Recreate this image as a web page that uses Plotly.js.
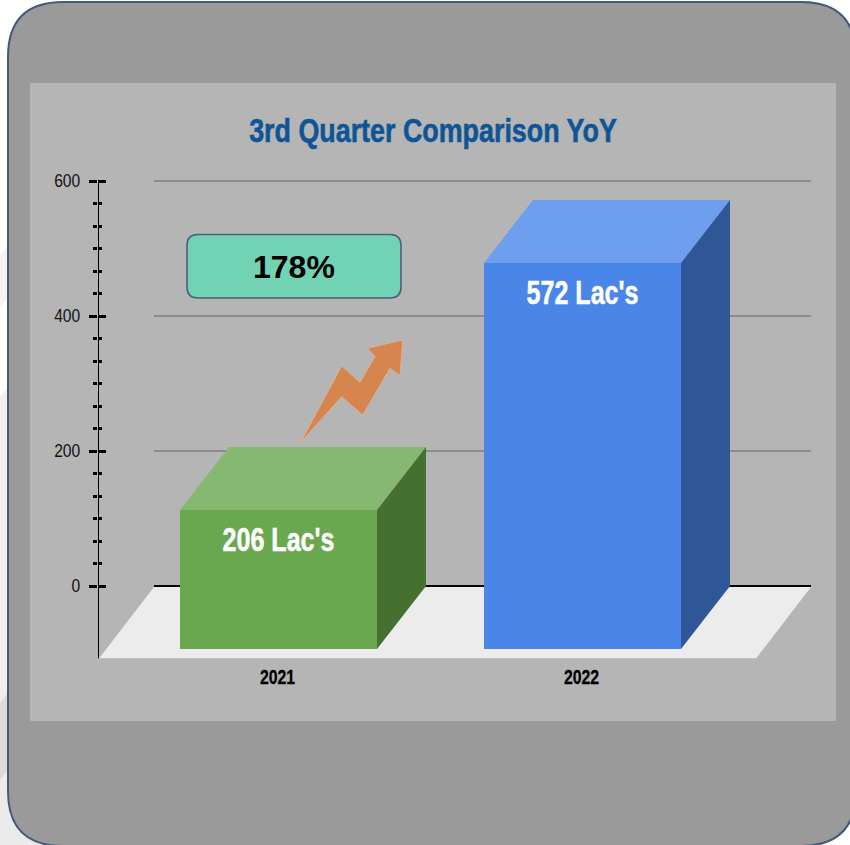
<!DOCTYPE html>
<html><head><meta charset="utf-8">
<script src="https://cdn.plot.ly/plotly-3.0.1.min.js"></script>
<style>html,body{margin:0;padding:0;background:#fff}#chart{width:850px;height:845px}</style>
</head><body><div id="chart"></div>
<script>
const categories = ['2021', '2022'];
const values = [206, 572];
const categoryPos = [0, 1];
const majorTicks = [0, 200, 400, 600];
const growthLabel = '178%';
const titleText = '3rd Quarter Comparison YoY';

const W = 850, H = 845;
const SANS = '"Liberation Sans",Arial,sans-serif';
const PX_PER_CAT = 304, X0_PX = 278.5;
const PY_PER_UNIT = 405 / 600, Y0_PX = 586;
const xVal = p => (p - X0_PX) / PX_PER_CAT;
const yVal = p => (Y0_PX - p) / PY_PER_UNIT;
const fx = p => p / W, fy = p => 1 - p / H;

const depthX = 49 / PX_PER_CAT, depthY = 63 / PY_PER_UNIT, barW = 197 / PX_PER_CAT;
const minorTicks = [];
for (let v = 0; v < 600; v += 200) for (let k = 1; k < 6; k++) minorTicks.push(v + k * 200 / 6);

const colors = [
  {front: '#69a84f', top: '#87b872', side: '#457030'},
  {front: '#4a86e8', top: '#6e9eee', side: '#2f5797'}
];

const traces = [];
categoryPos.forEach((c, i) => {
  const v = values[i], l = c - barW / 2, r = c + barW / 2;
  traces.push({type: 'scatter', mode: 'lines', fill: 'toself', fillcolor: colors[i].top, line: {width: 0}, hoverinfo: 'skip',
    x: [l, r, r + depthX, l + depthX, l], y: [v - depthY, v - depthY, v, v, v - depthY]});
  traces.push({type: 'scatter', mode: 'lines', fill: 'toself', fillcolor: colors[i].side, line: {width: 0}, hoverinfo: 'skip',
    x: [r, r + depthX, r + depthX, r, r], y: [-depthY, 0, v, v - depthY, -depthY]});
});
traces.unshift({type: 'bar', x: categoryPos, y: values, base: values.map(() => -depthY), width: barW,
  marker: {color: colors.map(c => c.front), line: {width: 0}}, hoverinfo: 'y'});
traces.push({type: 'scatter', mode: 'text', x: categoryPos, y: values.map(v => v - depthY - 32.5 / PY_PER_UNIT),
  text: values.map(v => v + " Lac's"), textposition: 'middle center', hoverinfo: 'skip',
  textfont: {family: SANS, size: 33, color: '#ffffff', weight: 700}});
traces.push({type: 'scatter', mode: 'none', x: categoryPos, y: values, yaxis: 'y2', hoverinfo: 'skip'});

const pathOf = pts => 'M' + pts.map(p => fx(p[0]) + ',' + fy(p[1])).join(' L') + ' Z';
const roundRect = (L, T, R, B, r) => `M${fx(L + r)},${fy(T)} L${fx(R - r)},${fy(T)} Q${fx(R)},${fy(T)} ${fx(R)},${fy(T + r)} L${fx(R)},${fy(B - r)} Q${fx(R)},${fy(B)} ${fx(R - r)},${fy(B)} L${fx(L + r)},${fy(B)} Q${fx(L)},${fy(B)} ${fx(L)},${fy(B - r)} L${fx(L)},${fy(T + r)} Q${fx(L)},${fy(T)} ${fx(L + r)},${fy(T)} Z`;
const paperPath = (path, fill, line, layer) => ({type: 'path', xref: 'paper', yref: 'paper', layer: layer || 'below', path, fillcolor: fill, line: line || {width: 0}});

const shapes = [
  paperPath(pathOf([[0, 255], [10, 243], [10, 295], [0, 307]]), '#f3f3f3'),
  paperPath(pathOf([[0, 397], [10, 385], [10, 845], [0, 845]]), '#efefef'),
  paperPath(pathOf([[0, 703], [10, 690], [10, 768], [0, 780]]), '#dcdcdc'),
  paperPath(pathOf([[0, 780], [70, 780], [70, 845], [0, 845]]), '#ebebeb'),
  paperPath(roundRect(8, 2, 856, 846, 55), '#9a9a9a', {color: '#45597a', width: 2}),
  {type: 'rect', xref: 'paper', yref: 'paper', layer: 'below', x0: fx(30), x1: fx(836), y0: fy(721), y1: fy(83), fillcolor: '#b5b5b5', line: {width: 0}},
  {type: 'path', xref: 'x', yref: 'y', layer: 'below',
    path: `M${xVal(99)},${yVal(658.5)} L${xVal(154)},${yVal(587)} L${xVal(811)},${yVal(587)} L${xVal(756)},${yVal(658.5)} Z`, fillcolor: '#ececec', line: {width: 0}}
];
majorTicks.forEach(t => shapes.push({type: 'line', xref: 'x', yref: 'y', layer: 'below',
  x0: xVal(154), x1: xVal(811), y0: t, y1: t, line: {color: t === 0 ? '#000000' : '#7f7f7f', width: t === 0 ? 2 : 1.5}}));
// axis line stops at the top tick, while the axis itself runs a little higher so that tick is kept
shapes.push({type: 'line', xref: 'x', yref: 'y', layer: 'above', x0: xVal(98), x1: xVal(98), y0: yVal(658.5), y1: 600, line: {color: '#000', width: 2}});
shapes.push(paperPath(roundRect(187, 234.5, 401, 298, 11), '#72d3b4', {color: '#4a5f80', width: 1.6}, 'above'));
shapes.push(paperPath(pathOf([[300.5, 442.5], [341.7, 396.7], [362.7, 415], [390, 368.3], [400, 375.7], [402.7, 340], [367.7, 348.3], [375, 356.7], [360, 382.3], [341.7, 366]]),
  '#d6854f', {color: '#e3b898', width: 0.7}, 'above'));

const yTopPx = 176;
const yRange = [yVal(658.5), yVal(yTopPx)];
const layout = {
  width: W, height: H, margin: {l: 0, r: 0, t: 0, b: 0},
  paper_bgcolor: '#ffffff', plot_bgcolor: 'rgba(0,0,0,0)', showlegend: false, bargap: 0,
  title: {text: titleText, x: fx(433), xanchor: 'center', y: fy(130), yanchor: 'middle', font: {family: SANS, size: 34, color: '#0f5596', weight: 700}},
  xaxis: {domain: [fx(98), fx(811)], range: [xVal(98), xVal(811)], showgrid: false, zeroline: false, showline: false,
    tickmode: 'array', tickvals: categoryPos, ticktext: categories, ticks: '', ticklabelstandoff: 4, tickfont: {family: SANS, size: 20, color: '#000', weight: 700}},
  yaxis: {domain: [fy(658.5), fy(yTopPx)], range: yRange, showgrid: false, zeroline: false, showline: false,
    tickmode: 'array', tickvals: majorTicks, ticks: 'outside', ticklen: 8, tickwidth: 3, tickcolor: '#000', ticklabelstandoff: 5,
    tickfont: {family: SANS, size: 19, color: '#111'},
    minor: {tickmode: 'array', tickvals: minorTicks, ticks: 'outside', ticklen: 4, tickwidth: 3, tickcolor: '#000', showgrid: false}},
  yaxis2: {overlaying: 'y', side: 'left', anchor: 'x', range: yRange, showgrid: false, zeroline: false, showline: false,
    showticklabels: false, tickmode: 'array', tickvals: majorTicks, ticks: 'inside', ticklen: 8, tickwidth: 3, tickcolor: '#000',
    minor: {tickmode: 'array', tickvals: minorTicks, ticks: 'inside', ticklen: 4, tickwidth: 3, tickcolor: '#000', showgrid: false}},
  shapes: shapes,
  annotations: [{xref: 'paper', yref: 'paper', x: fx(293.5), y: fy(267), text: growthLabel, showarrow: false, xanchor: 'center', yanchor: 'middle',
    font: {family: SANS, size: 32, color: '#000', weight: 700}}]
};
// the reference's lettering is horizontally condensed; no narrow face is installed, so condense the real text
function condense(selector, factor, strokeWidth, dx, dy) {
  document.querySelectorAll(selector).forEach(t => {
    t.setAttribute('textLength', (t.getComputedTextLength() * factor).toFixed(1));
    t.setAttribute('lengthAdjust', 'spacingAndGlyphs');
    if (strokeWidth) { t.style.stroke = t.style.fill; t.style.strokeWidth = strokeWidth + 'px'; }
    if (dx) t.setAttribute('dx', dx);
    if (dy) t.setAttribute('dy', dy);
  });
}
Plotly.newPlot('chart', traces, layout, {displayModeBar: false, staticPlot: true}).then(() => {
  condense('.gtitle', 0.79, 0.6);
  condense('.xtick text', 0.79, 0.3, -1);
  condense('.ytick text', 0.82, 0, 0, -1);
  condense('.textpoint text', 0.76, 0.5);
});
</script></body></html>
